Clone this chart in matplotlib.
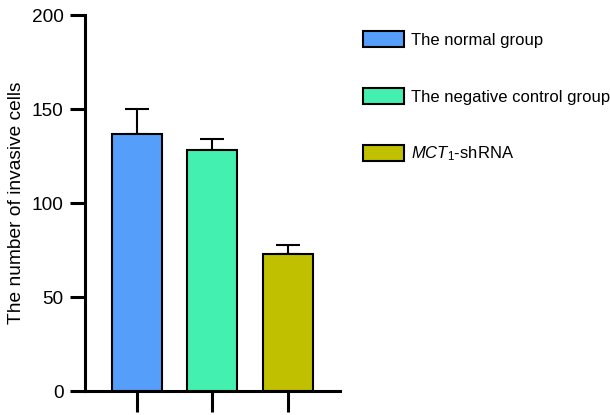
import matplotlib
matplotlib.use('Agg')
import matplotlib.pyplot as plt
import numpy as np

plt.rcParams['font.family'] = ['Liberation Sans', 'DejaVu Sans']
plt.rcParams['mathtext.fontset'] = 'custom'
plt.rcParams['mathtext.rm'] = 'Liberation Sans'
plt.rcParams['mathtext.it'] = 'Liberation Sans:italic'

groups = ['The normal group', 'The negative control group', r'$\mathit{MCT}_{\mathit{1}}$-shRNA']
means = [136.5, 128.4, 72.9]
errors = [13.7, 5.8, 4.8]
colors = ['#559EFA', '#44F0AF', '#C0C000']

fig = plt.figure(figsize=(6.1, 4.15), dpi=100)
ax = fig.add_axes([85/610, 24/415, 255/610, 376/415])

x = np.arange(len(means))
bars = ax.bar(x, means, width=0.66, color=colors, edgecolor='black', linewidth=1.5, zorder=3)
ax.errorbar(x, means, yerr=[np.zeros(len(errors)), errors], fmt='none', ecolor='black',
            elinewidth=1.5, capsize=8.3, capthick=1.5, zorder=2)

ax.set_xlim(-0.685, 2.693)
ax.set_ylim(0, 200)
ax.set_yticks([0, 50, 100, 150, 200])
ax.set_xticks(x)
ax.set_xticklabels([])
ax.spines['top'].set_visible(False)
ax.spines['right'].set_visible(False)
for s in ['left', 'bottom']:
    ax.spines[s].set_linewidth(2.2)
ax.tick_params(axis='y', length=10.8, width=2.2, labelsize=13.7, pad=4.5)
ax.tick_params(axis='x', length=15, width=2.2)
ax.set_ylabel('The number of invasive cells', fontsize=13.8, labelpad=5)

leg = fig.legend(bars, groups, loc='upper left', bbox_to_anchor=(363/610, 1 - 31/415),
                 frameon=False, fontsize=12, handlelength=2.45, handleheight=1.14,
                 handletextpad=0.42, labelspacing=2.4, borderaxespad=0, borderpad=0)

fig.savefig('out.png', dpi=100)
